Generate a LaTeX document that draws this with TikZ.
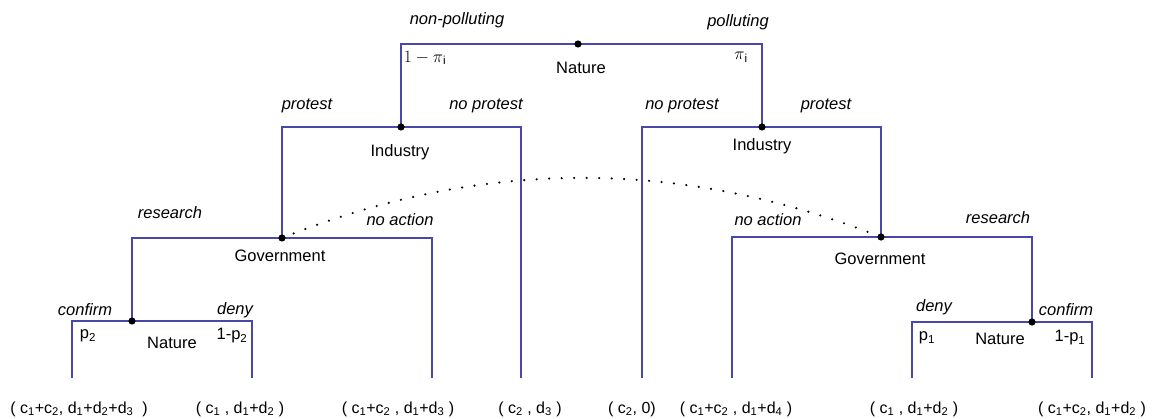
\documentclass[tikz,border=0pt]{standalone}
\usepackage{fontspec}
\setmainfont{Liberation Sans}
\definecolor{treeblue}{RGB}{72,72,172}

\begin{document}
\begin{tikzpicture}[x=1pt, y=-1pt, font=\fontsize{16.5}{19}\selectfont,
		branch/.style={treeblue, line width=1.6pt},
		choice/.style={font=\fontsize{16.5}{19}\selectfont\itshape},
		payoff/.style={font=\fontsize{16}{19}\selectfont}]
	\useasboundingbox (0,0) rectangle (1153,419);
	% Livelli dell'albero
	\def\yfoglie{378}
	\def\ypay{409}
	
	% --- Nodi di decisione ---
	\coordinate (nat)  at (578,44);
	\coordinate (indL) at (401,127);
	\coordinate (indR) at (762,127);
	\coordinate (govL) at (282,238);
	\coordinate (govR) at (881,237);
	\coordinate (natL) at (132,321);
	\coordinate (natR) at (1032,322);
	% Foglie
	\coordinate (lfA) at (72,\yfoglie);
	\coordinate (lfB) at (252,\yfoglie);
	\coordinate (lfC) at (432,\yfoglie);
	\coordinate (lfD) at (521,\yfoglie);
	\coordinate (lfE) at (642,\yfoglie);
	\coordinate (lfF) at (732,\yfoglie);
	\coordinate (lfG) at (912,\yfoglie);
	\coordinate (lfH) at (1092,\yfoglie);
	
	% --- Rami ---
	\draw[branch] (nat) -| (indL);
	\draw[branch] (nat) -| (indR);
	\draw[branch] (indL) -| (govL);
	\draw[branch] (indL) -| (lfD);
	\draw[branch] (indR) -| (lfE);
	\draw[branch] (indR) -| (govR);
	\draw[branch] (govL) -| (natL);
	\draw[branch] (govL) -| (lfC);
	\draw[branch] (govR) -| (lfF);
	\draw[branch] (govR) -| (natR);
	\draw[branch] (natL) -| (lfA);
	\draw[branch] (natL) -| (lfB);
	\draw[branch] (natR) -| (lfG);
	\draw[branch] (natR) -| (lfH);
	
	% Insieme d'informazione (tratteggiato)
	\draw[line width=2.4pt, line cap=round, dash pattern=on 0pt off 12.5pt]
		(govL) .. controls (482,158) and (681,158) .. (govR);
	
	\foreach \n in {nat,indL,indR,govL,govR,natL,natR}
		\fill (\n) circle (3.6);
	
	% --- Etichette ---
	\node[choice] (tNP) at (457,20) {non-polluting};
	\node[choice] (tP)  at (738,22) {polluting};
	\node (pNP) at (425,58) {$1-\pi$\textsubscript{i}};
	\node (pP)  at (741,57) {$\pi$\textsubscript{i}};
	\node (lNat) at (581,68) {Nature};
	
	\node[choice] (tPrL)  at (307,106) {protest};
	\node[choice] (tNPrL) at (486,106) {no protest};
	\node (lIndL) at (400,152) {Industry};
	\node[choice] (tNPrR) at (682,106) {no protest};
	\node[choice] (tPrR)  at (826,106) {protest};
	\node (lIndR) at (762,146) {Industry};
	
	\node[choice] (tReL) at (170,213) {research};
	\node[choice] (tNaL) at (400,220) {no action};
	\node (lGovL) at (280,256) {Government};
	\node[choice] (tNaR) at (768,220) {no action};
	\node[choice] (tReR) at (998,218) {research};
	\node (lGovR) at (880,259) {Government};
	
	\node[choice] (tCoL) at (85,310) {confirm};
	\node[choice] (tDeL) at (235,310) {deny};
	\node (pCoL) at (88,336) {p\textsubscript{2}};
	\node (lNatL) at (172,343) {Nature};
	\node (pDeL) at (232,336) {1-p\textsubscript{2}};
	\node[choice] (tDeR) at (934,307) {deny};
	\node[choice] (tCoR) at (1066,310) {confirm};
	\node (pDeR) at (927,338) {p\textsubscript{1}};
	\node (lNatR) at (1000,339) {Nature};
	\node (pCoR) at (1070,338) {1-p\textsubscript{1}};
	
	% --- Payoff ---
	\node[payoff] (pyA) at (79,\ypay) {( c\textsubscript{1}+c\textsubscript{2}, d\textsubscript{1}+d\textsubscript{2}+d\textsubscript{3} \ )};
	\node[payoff] (pyB) at (240,\ypay) {( c\textsubscript{1} , d\textsubscript{1}+d\textsubscript{2} )};
	\node[payoff] (pyC) at (398,\ypay) {( c\textsubscript{1}+c\textsubscript{2} , d\textsubscript{1}+d\textsubscript{3} )};
	\node[payoff] (pyD) at (530,\ypay) {( c\textsubscript{2} , d\textsubscript{3} )};
	\node[payoff] (pyE) at (632,\ypay) {( c\textsubscript{2}, 0)};
	\node[payoff] (pyF) at (736,\ypay) {( c\textsubscript{1}+c\textsubscript{2} , d\textsubscript{1}+d\textsubscript{4} )};
	\node[payoff] (pyG) at (914,\ypay) {( c\textsubscript{1} , d\textsubscript{1}+d\textsubscript{2} )};
	\node[payoff] (pyH) at (1092,\ypay) {( c\textsubscript{1}+c\textsubscript{2}, d\textsubscript{1}+d\textsubscript{2} )};
\end{tikzpicture}
\end{document}
